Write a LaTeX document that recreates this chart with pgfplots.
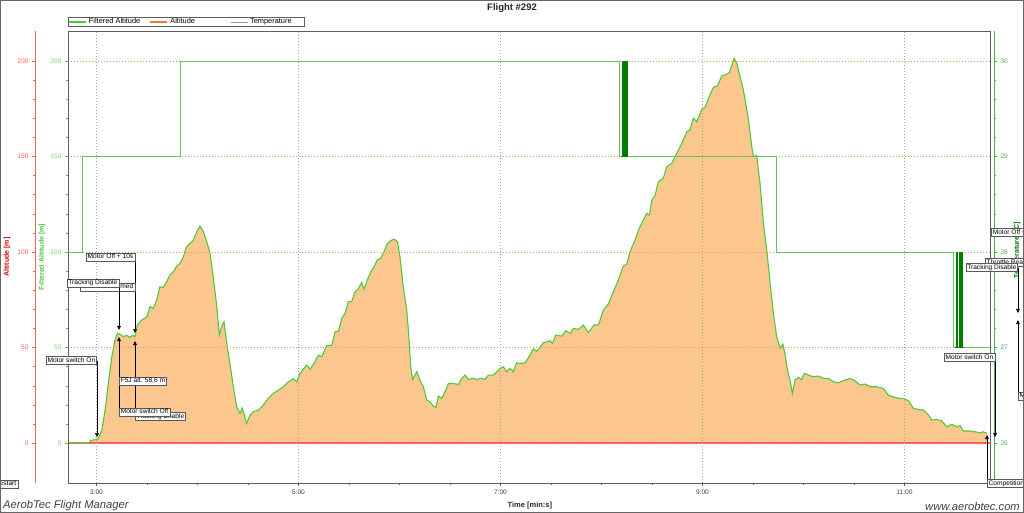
\documentclass[border=0pt]{standalone}
\usepackage{pgfplots}
\pgfplotsset{compat=1.18}
\usepackage{pgfplotstable}
\usepackage{fontspec}
\setmainfont{Liberation Sans}
\usetikzlibrary{arrows.meta}

\definecolor{curvegreen}{RGB}{80,200,60}
\definecolor{fillorange}{RGB}{252,198,143}
\definecolor{zeroRed}{RGB}{255,90,90}
\definecolor{tempgreen}{RGB}{105,190,105}
\definecolor{noisegreen}{RGB}{0,125,0}
\definecolor{gridorange}{RGB}{225,150,100}
\definecolor{gridgray}{RGB}{165,165,165}
\definecolor{framegray}{RGB}{95,95,95}
\definecolor{labred}{RGB}{255,95,95}
\definecolor{labgreen}{RGB}{110,215,110}
\definecolor{tempaxis}{RGB}{70,180,70}
\definecolor{altorange}{RGB}{240,120,60}

\pgfplotstableread{
t alt
163.1 0.2
175.8 0.2
176.6 1.5
180.3 1.8
181.1 2.5
183.2 6.8
185.1 17.0
187.0 31.0
189.1 45.0
191.0 54.0
192.4 57.4
194.0 57.0
195.9 55.7
197.9 56.4
199.9 55.3
201.5 56.4
202.9 55.7
204.3 61.8
206.9 64.4
209.9 66.1
211.8 71.4
213.8 70.5
215.8 74.9
217.7 81.8
219.7 81.5
221.7 84.5
223.7 88.0
225.7 89.7
227.7 92.7
229.7 94.0
231.6 97.5
233.6 102.8
235.6 104.5
237.5 106.3
239.6 110.6
241.5 113.6
243.5 110.6
245.5 105.4
247.5 99.3
249.4 87.0
251.5 71.4
253.0 56.5
254.4 60.9
255.8 63.5
257.4 52.2
259.3 41.7
261.3 29.5
263.3 19.0
265.3 15.5
266.7 18.2
267.8 14.7
269.2 10.3
271.3 14.7
273.2 16.4
276.2 17.3
279.1 19.9
282.1 23.4
285.0 26.0
288.0 27.7
291.1 29.5
294.0 32.1
297.0 33.6
299.0 32.1
300.9 36.5
304.9 40.8
306.9 38.6
309.8 42.6
311.8 46.0
313.8 45.2
316.8 51.0
319.8 51.3
321.8 58.3
323.7 58.3
325.7 65.3
327.7 67.9
329.6 74.0
331.6 74.0
333.6 79.2
335.5 80.6
337.6 84.1
339.0 80.6
340.9 85.3
343.0 89.7
344.9 92.3
346.8 95.8
348.9 96.7
350.8 100.2
352.8 104.5
354.8 105.9
356.7 106.8
358.8 105.4
360.3 97.5
362.3 81.8
364.3 69.6
365.3 59.2
366.7 39.9
367.8 33.3
370.3 37.3
372.2 33.0
374.2 29.5
376.2 22.5
378.1 21.6
380.1 19.4
381.7 18.7
383.1 24.6
385.1 23.4
387.1 26.9
389.1 31.2
392.0 31.2
395.0 30.7
397.0 33.9
399.0 35.6
400.9 33.3
403.8 33.9
405.9 33.3
408.2 33.9
410.8 33.3
412.8 35.6
415.8 35.6
417.8 37.3
419.8 39.1
421.7 39.9
423.7 37.3
425.7 39.1
427.6 37.3
429.6 42.0
431.6 41.7
434.6 42.0
437.6 46.0
439.5 49.3
441.6 48.0
445.5 52.5
449.4 53.6
450.9 52.2
452.8 56.5
456.4 56.0
458.8 58.8
461.4 57.4
463.3 60.0
466.3 59.5
469.2 61.8
472.2 57.8
475.6 61.8
478.2 61.8
481.1 69.6
484.1 72.8
487.1 79.2
490.0 85.3
493.0 92.7
495.0 93.6
497.0 100.2
499.9 106.3
502.0 111.5
504.9 116.8
506.9 120.2
508.5 119.4
509.9 127.2
511.8 129.5
513.8 136.8
516.7 138.6
518.8 144.7
521.7 146.4
523.7 149.9
526.7 155.1
528.7 159.0
530.7 163.0
532.6 163.9
534.6 170.0
536.6 168.2
539.6 174.7
541.5 175.7
543.5 180.4
546.5 186.2
548.9 186.9
551.4 192.1
553.4 192.7
556.0 193.9
558.8 201.4
560.4 198.8
562.3 191.8
564.3 184.8
567.2 170.0
569.3 155.1
570.3 149.9
572.2 150.6
574.3 135.0
576.2 115.0
578.2 101.0
580.2 83.6
582.1 67.9
584.1 55.7
586.1 49.6
587.7 51.8
589.0 47.0
590.5 38.2
592.0 33.0
593.4 26.0
595.0 33.0
597.0 34.4
598.9 33.3
600.6 36.5
602.9 35.6
605.9 34.7
608.8 35.1
611.8 33.9
614.7 33.9
617.8 32.1
620.8 31.6
623.7 32.6
627.7 33.9
630.6 32.6
633.6 30.4
636.6 30.9
639.5 29.5
643.5 29.5
647.5 28.6
650.4 25.1
653.4 24.2
656.3 23.4
659.3 23.4
662.4 22.1
665.3 18.2
668.3 17.6
671.2 17.3
674.2 14.7
676.2 12.0
679.2 12.4
682.1 11.7
685.1 8.5
688.1 9.8
691.0 8.5
693.1 9.1
695.0 6.3
699.0 6.3
701.9 5.9
704.9 5.4
706.8 5.9
708.9 5.1
}\altdata

\pgfplotstableread{
t temp
163.1 28
171.4 29
229.8 30
490.4 29
583.7 28
689.0 27
710.8 27
}\tempdata

\pgfplotstableread{
t temp
491.6 29
492.2 30
492.8 29
493.4 30
494.0 29
494.6 30
495.2 29
}\tempnoiseA

\pgfplotstableread{
t temp
690.3 27
691.0 28
691.7 27
692.4 28
693.1 27
693.8 28
694.5 27
695.1 27
}\tempnoiseB

\tikzset{
  annot/.style={draw=black!65, fill=white, font=\fontsize{6.6}{7}\selectfont,
    inner xsep=1.5pt, inner ysep=0.8pt, text height=4.9pt, text depth=1.3pt,
    line width=0.5pt, rectangle},
  arr/.style={black, line width=0.6pt, -{Triangle[length=4pt,width=3.6pt]}}
}

\begin{document}
\begin{tikzpicture}
\useasboundingbox (0,0) rectangle (1024pt,513pt);

% ---------- main axis: filtered altitude ----------
\begin{axis}[
  at={(68pt,30pt)}, anchor=south west,
  scale only axis, width=922pt, height=452pt,
  xmin=163.1, xmax=710.8, ymin=-20.9, ymax=215.7,
  axis on top,
  axis line style={framegray, line width=0.8pt},
  xtick={180,300,420,540,660},
  xticklabels={3:00,5:00,7:00,9:00,11:00},
  minor x tick num=3,
  xtick pos=bottom,
  ytick={0,50,100,150,200},
  minor y tick num=4,
  ytick pos=left,
  tick align=outside,
  major tick length=3pt, minor tick length=2pt,
  xtick style={framegray, line width=0.5pt},
  ytick style={curvegreen, line width=0.5pt},
  /pgf/number format/assume math mode=true,
  tick label style={font=\fontsize{6.6}{7}\selectfont},
  yticklabel style={labgreen},
  xticklabel style={black!75},
  xmajorgrids, ymajorgrids,
  x grid style={gridgray, dash pattern=on 0.8pt off 2.2pt, line width=0.6pt},
  y grid style={gridorange, dash pattern=on 0.8pt off 2.2pt, line width=0.6pt},
  xlabel={Time [min:s]},
  xlabel style={at={(axis description cs:0.501,-0.0509)}, anchor=center,
    font=\bfseries\fontsize{7.5}{8}\selectfont, text=black!85},
  ylabel={Filtered Altitude [m]},
  ylabel style={at={(axis description cs:-0.0282,0.5)}, anchor=center,
    font=\bfseries\fontsize{7}{8}\selectfont, text=curvegreen},
  title={Flight \#292},
  every axis title shift=0pt,
  title style={at={(axis description cs:0.4816,1.0509)}, anchor=center,
    font=\bfseries\fontsize{9.5}{10}\selectfont, text=black!85},
  legend style={at={(axis description cs:0,1)}, anchor=south west, yshift=4.5pt,
    draw=framegray, line width=0.6pt, fill=white, inner sep=0.5pt,
    font=\fontsize{7.4}{8}\selectfont, legend columns=3,
    /tikz/every even column/.append style={column sep=2pt},
    nodes={inner xsep=2pt, inner ysep=0.3pt}},
  legend cell align=left,
  legend image code/.code={\draw[#1] (0pt,0pt) -- (17pt,0pt);},
]
\addlegendimage{curvegreen, line width=1.1pt}
\addlegendentry{\makebox[56pt][l]{Filtered Altitude}}
\addlegendimage{altorange, line width=2.5pt}
\addlegendentry{\makebox[56pt][l]{Altitude}}
\addlegendimage{tempgreen, line width=0.7pt}
\addlegendentry{\makebox[52pt][l]{Temperature}}

\addplot[fill=fillorange, draw=none, forget plot] table[x=t, y=alt] {\altdata} \closedcycle;
\addplot[zeroRed, line width=1.5pt, forget plot] coordinates {(163.1,0) (710.8,0)};
\addplot[curvegreen, line width=1.1pt, forget plot] table[x=t, y=alt] {\altdata};
\end{axis}

% ---------- temperature axis (right) ----------
\begin{axis}[
  at={(68pt,30pt)}, anchor=south west,
  scale only axis, width=926pt, height=452pt,
  xmin=163.1, xmax=713.2, ymin=25.582, ymax=30.314,
  axis x line=none, axis y line*=right,
  y axis line style={tempaxis, line width=0.8pt},
  ytick={26,27,28,29,30}, minor y tick num=4,
  tick align=outside,
  major tick length=3pt, minor tick length=2pt,
  ytick style={tempaxis, line width=0.5pt},
  /pgf/number format/assume math mode=true,
  tick label style={font=\fontsize{6.6}{7}\selectfont},
  yticklabel style={tempaxis},
  ylabel={Temperature [°C]},
  ylabel style={at={(axis description cs:1.0248,0.515)}, anchor=center, rotate=0,
    font=\bfseries\fontsize{7}{8}\selectfont, text=green!45!black},
]
\addplot[const plot, tempgreen, line width=0.7pt] table[x=t, y=temp] {\tempdata};
\addplot[const plot, noisegreen, line width=0.9pt] table[x=t, y=temp] {\tempnoiseA};
\addplot[const plot, noisegreen, line width=0.9pt] table[x=t, y=temp] {\tempnoiseB};
\end{axis}

% ---------- red altitude axis (far left) ----------
\begin{axis}[
  at={(35pt,30pt)}, anchor=south west,
  scale only axis, width=1pt, height=452pt,
  xmin=0, xmax=1, ymin=-20.9, ymax=215.7,
  axis x line=none, axis y line*=left,
  y axis line style={labred, line width=0.8pt},
  ytick={0,50,100,150,200}, minor y tick num=4,
  tick align=outside,
  major tick length=3pt, minor tick length=2pt,
  ytick style={labred, line width=0.5pt},
  /pgf/number format/assume math mode=true,
  tick label style={font=\fontsize{6.6}{7}\selectfont},
  yticklabel style={labred},
  ylabel={Altitude [m]},
  ylabel style={at={(axis description cs:-28,0.5)}, anchor=center,
    font=\bfseries\fontsize{7}{8}\selectfont, text=red!85!black},
]
\end{axis}

% ---------- annotation layer ----------
\begin{axis}[
  at={(68pt,30pt)}, anchor=south west,
  scale only axis, width=922pt, height=452pt,
  xmin=163.1, xmax=710.8, ymin=-20.9, ymax=215.7,
  hide axis, clip=false,
]
% left group
\draw[arr] (axis cs:180.3,43.2) -- (axis cs:180.3,3.1);
\node[annot, anchor=east] at (axis cs:180.3,43.2) {Motor switch On};
\draw[arr] (axis cs:202.9,97.4) -- (axis cs:202.9,57.6);
\node[annot, anchor=east] at (axis cs:202.9,81.7) {Throttle Rearmed};
\node[annot, anchor=east] at (axis cs:202.9,97.4) {Motor Off + 10s};
\draw[arr] (axis cs:193.4,83.8) -- (axis cs:193.4,59.2);
\node[annot, anchor=east] at (axis cs:193.4,83.8) {Tracking Disable};
\draw[arr] (axis cs:202.9,13.9) -- (axis cs:202.9,53.4);
\node[annot, anchor=west] at (axis cs:202.9,13.9) {Tracking Enable};
\draw[arr] (axis cs:193.4,16.2) -- (axis cs:193.4,55.5);
\node[annot, anchor=west] at (axis cs:193.4,16.2) {Motor switch Off};
\node[annot, anchor=west] at (axis cs:193.4,32.5) {F5J alt. 58,6 m};
\node[annot, anchor=east] at (axis cs:133.4,-21.5) {Prestart};
% right group
\draw[arr] (axis cs:713.8,44.8) -- (axis cs:713.8,3.1);
\node[annot, anchor=east] at (axis cs:713.8,44.8) {Motor switch On};
\draw[arr] (axis cs:709.0,-21.2) -- (axis cs:709.0,4.2);
\node[annot, anchor=west] at (axis cs:709.0,-21.2) {Competition end};
\draw[arr] (axis cs:727.4,91.9) -- (axis cs:727.4,68.1);
\draw[arr] (axis cs:727.4,24.6) -- (axis cs:727.4,64.4);
\node[annot, anchor=west] at (axis cs:711.4,110.2) {Motor Off + 10s};
\node[annot, anchor=west] at (axis cs:707.8,94.5) {Throttle Rearmed};
\node[annot, anchor=east] at (axis cs:727.4,91.9) {Tracking Disable};
\node[annot, anchor=west] at (axis cs:727.4,24.6) {Motor switch Off};
\end{axis}

% footer texts and outer frame
\node[anchor=west, inner sep=0pt, font=\itshape\fontsize{11.2}{12}\selectfont, text=black!75] at (3pt,7pt) {AerobTec Flight Manager};
\node[anchor=east, inner sep=0pt, font=\itshape\fontsize{11.2}{12}\selectfont, text=black!75] at (1020pt,7pt) {www.aerobtec.com};
\draw[black!60, line width=1pt] (0.5pt,0.5pt) rectangle (1023.5pt,512.5pt);
\end{tikzpicture}
\end{document}
